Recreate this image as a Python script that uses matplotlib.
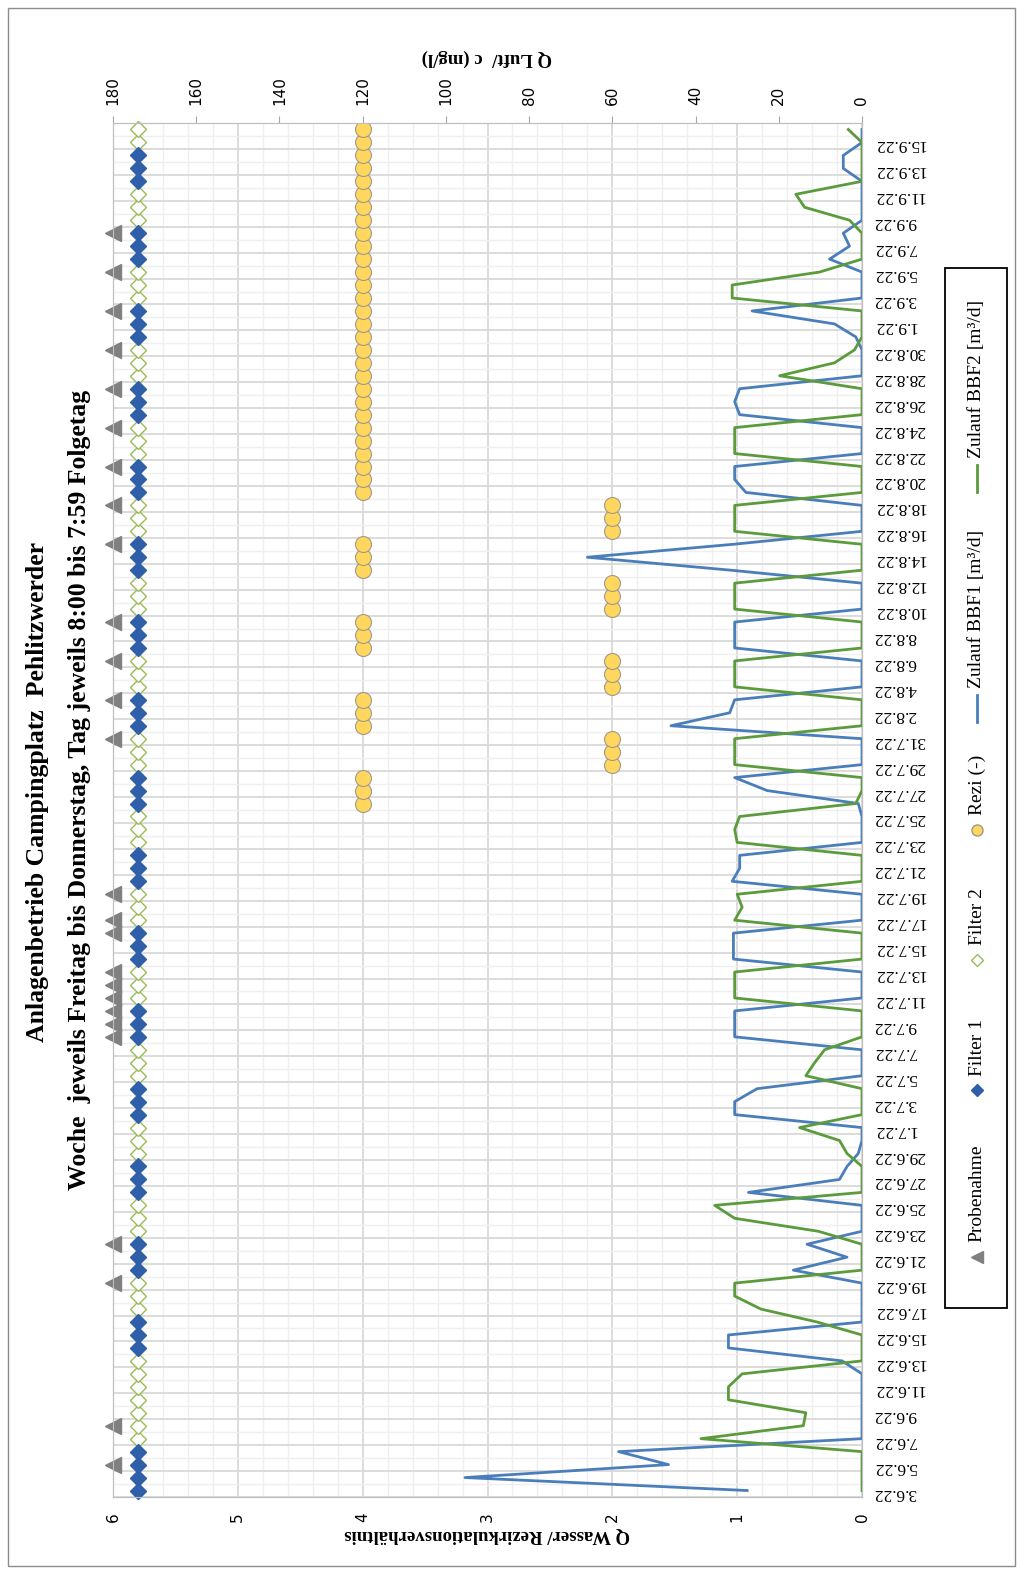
import numpy as np
import pandas as pd
import matplotlib
matplotlib.use('Agg')
import matplotlib.pyplot as plt
from matplotlib.lines import Line2D
from matplotlib.patches import Rectangle

plt.rcParams['font.family'] = ['Liberation Serif', 'DejaVu Serif']

# categories: one per day, 3.6.22 .. 16.9.22 (labels every 2nd day)
days = pd.date_range('2022-06-03', '2022-09-16', freq='D')
day_labels = [f'{d.day}.{d.month}.22' for d in days]
n_days = len(days)

# Zulauf BBF1 [m3/d], one value per day
bbf1_val = [0.92, 3.18, 1.55, 1.95, 0, 0, 0, 0, 0, 0,
            0.16, 1.07, 1.07, 0, 0, 0, 0, 0.55, 0.12, 0.44,
            0, 0, 0, 0.91, 0.18, 0.12, 0.03, 0, 0, 1.02,
            1.02, 0.84, 0, 0, 0, 1.02, 1.02, 1.02, 0, 0,
            0, 1.03, 1.03, 1.03, 0, 0, 0, 1.04, 0.98, 0.98,
            0, 0, 0, 0.03, 0.76, 1.02, 0, 0, 0, 1.53,
            1.06, 1.02, 0, 0, 0, 1.02, 1.02, 1.02, 0, 0,
            0, 1.05, 2.2, 1.03, 0, 0, 0, 0.93, 1.02, 1.02,
            0, 0, 0, 0.98, 1.02, 0.98, 0, 0, 0, 0.05,
            0.22, 0.88, 0, 0, 0, 0.26, 0.1, 0.15, 0, 0,
            0, 0, 0.15, 0.15, 0, 0]

# Zulauf BBF2 [m3/d]
bbf2_val = [0, 0, 0, 0, 1.29, 0.47, 0.45, 1.07, 1.07, 0.96,
            0, 0, 0, 0.36, 0.81, 1.02, 1.02, 0, 0, 0,
            0.35, 1.02, 1.18, 0, 0, 0, 0.12, 0.18, 0.5, 0,
            0, 0, 0.45, 0.38, 0.3, 0, 0, 0, 1.02, 1.02,
            1.02, 0, 0, 0, 1.02, 0.96, 1.0, 0, 0, 0,
            1.0, 1.02, 0.98, 0.05, 0, 0, 1.02, 1.02, 1.02, 0,
            0, 0, 1.02, 1.02, 1.02, 0, 0, 0, 1.02, 1.02,
            1.02, 0, 0, 0, 1.02, 1.02, 1.02, 0, 0, 0,
            1.02, 1.02, 1.02, 0, 0, 0, 0.66, 0.22, 0.06, 0,
            0, 0, 1.04, 1.04, 0.34, 0, 0, 0, 0.1, 0.46,
            0.53, 0, 0, 0, 0, 0.11]

# day indices of markers
filter1_days = [0, 1, 2, 3, 11, 12, 13, 17, 18, 19, 23, 24, 25, 29, 30, 31,
                35, 36, 37, 41, 42, 43, 47, 48, 49, 53, 54, 55, 59, 60, 61,
                65, 66, 67, 71, 72, 73, 77, 78, 79, 83, 84, 85, 89, 90, 91,
                95, 96, 97, 101, 102, 103]
filter2_days = [d for d in range(n_days) if d not in filter1_days]
probe_days = [2, 5, 16, 19, 35, 36, 37, 38, 39, 40, 43, 44, 46,
              58, 61, 64, 67, 73, 76, 79, 82, 85, 88, 91, 94, 97]
rezi_days = list(range(53, n_days))
rezi_val = [4, 4, 4, 2, 2, 2, 4, 4, 4, 2, 2, 2, 4, 4, 4, 2, 2, 2,
            4, 4, 4, 2, 2, 2] + [4] * 29

filter_level = 5.8
probe_level = 6

blue = '#4a7ebb'
green = '#5b9b3c'

W, H = 1018, 1573
fig = plt.figure(figsize=(W / 100, H / 100), dpi=100)


def fx(px):
    return px / W


def fy(py):
    return 1 - py / H


ax = fig.add_axes([fx(113), fy(1497), fx(862) - fx(113), fy(123) - fy(1497)])
ax.set_xlim(6, 0)
ax.set_ylim(-0.5, n_days - 0.5)

# grid
for v in np.arange(0, 6.01, 0.2):
    major = abs(v - round(v)) < 1e-6
    ax.axvline(v, color='#d9d9d9' if major else '#efefef', lw=1.3 if major else 1.0, zorder=0)
for k in range(n_days + 1):
    b = k - 0.5
    ax.axhline(b, color='#d9d9d9' if k % 2 == 0 else '#efefef', lw=1.3 if k % 2 == 0 else 1.0, zorder=0)

day_idx = np.arange(n_days)
ax.plot(bbf1_val, day_idx, color=blue, lw=2.0, zorder=3)
ax.plot(bbf2_val, day_idx, color=green, lw=2.0, zorder=3)

ax.plot([filter_level] * len(filter2_days), filter2_days, ls='none', marker='D', ms=8.5,
        mfc='white', mec='#9bbb59', mew=1.0, zorder=4, clip_on=False)
ax.plot([filter_level] * len(filter1_days), filter1_days, ls='none', marker='D', ms=8.5,
        mfc='#2f5fa8', mec='#2f5fa8', zorder=5, clip_on=False)
ax.plot([probe_level] * len(probe_days), probe_days, ls='none', marker='<', ms=12,
        mfc='#808080', mec='#808080', zorder=5, clip_on=False)
ax.plot(rezi_val, rezi_days, ls='none', marker='o', ms=11.5,
        mfc='#ffd75e', mec='#a09a88', mew=0.8, zorder=5)

# axes styling
for s in ax.spines.values():
    s.set_color('#bfbfbf')
ax.set_xticks(range(0, 7))
ax.set_xticklabels([str(i) for i in range(0, 7)], family='DejaVu Sans', fontsize=11)
ax.tick_params(axis='x', length=0, pad=11, labelrotation=90)
ax.yaxis.tick_right()
ax.set_yticks(day_idx[::2])
ax.set_yticklabels(day_labels[::2], rotation=180, fontsize=12.5)
ax.tick_params(axis='y', length=0, pad=8)

ax2 = ax.twiny()
ax2.set_xlim(180, 0)
ax2.set_xticks(range(0, 181, 20))
ax2.set_xticklabels([str(i) for i in range(0, 181, 20)], family='DejaVu Sans', fontsize=11)
ax2.tick_params(axis='x', length=5, pad=8, labelrotation=90, color='#a6a6a6')
for s in ax2.spines.values():
    s.set_color('#bfbfbf')

fig.text(fx(487), fy(1535), 'Q Wasser/ Rezirkulationsverhältnis', rotation=180,
         ha='center', va='center', fontsize=13.5, fontweight='bold')
fig.text(fx(487), fy(58), 'Q Luft/  c (mg/l)', rotation=180,
         ha='center', va='center', fontsize=13.5, fontweight='bold')

fig.text(fx(38), fy(792), 'Anlagenbetrieb Campingplatz  Pehlitzwerder', rotation=90,
         ha='center', va='center', fontsize=18.5, fontweight='bold')
fig.text(fx(80), fy(790), 'Woche  jeweils Freitag bis Donnerstag, Tag jeweils 8:00 bis 7:59 Folgetag',
         rotation=90, ha='center', va='center', fontsize=18.5, fontweight='bold')

# legend box (drawn by hand, rotated)
fig.add_artist(Rectangle((fx(945), fy(1308)), fx(1007) - fx(945), fy(268) - fy(1308),
                         transform=fig.transFigure, fill=False, ec='black', lw=1.3))
lx = fx(977)
leg = [
    (1257, dict(marker='<', ms=9, mfc='#808080', mec='#808080', ls='none'), 1242, 'Probenahme'),
    (1090, dict(marker='D', ms=6, mfc='#2f5fa8', mec='#2f5fa8', ls='none'), 1076, 'Filter 1'),
    (960, dict(marker='D', ms=6, mfc='white', mec='#9bbb59', ls='none'), 945, 'Filter 2'),
    (830, dict(marker='o', ms=8, mfc='#ffd75e', mec='#a09a88', ls='none'), 815, 'Rezi (-)'),
]
for my, style, ty, txt in leg:
    fig.add_artist(Line2D([lx], [fy(my)], transform=fig.transFigure, **style))
    fig.text(lx, fy(ty), txt, rotation=90, ha='center', va='bottom', fontsize=14)
for y0, y1, ty, col, txt in [(722, 695, 688, blue, 'Zulauf BBF1 [m³/d]'),
                             (492, 465, 458, green, 'Zulauf BBF2 [m³/d]')]:
    fig.add_artist(Line2D([lx, lx], [fy(y0), fy(y1)], transform=fig.transFigure, color=col, lw=2))
    fig.text(lx, fy(ty), txt, rotation=90, ha='center', va='bottom', fontsize=14)

fig.add_artist(Rectangle((fx(8), fy(1566)), fx(1015) - fx(8), fy(8) - fy(1566),
                         transform=fig.transFigure, fill=False, ec='#8c8c8c', lw=1.0))

fig.savefig('out.png', dpi=100)
